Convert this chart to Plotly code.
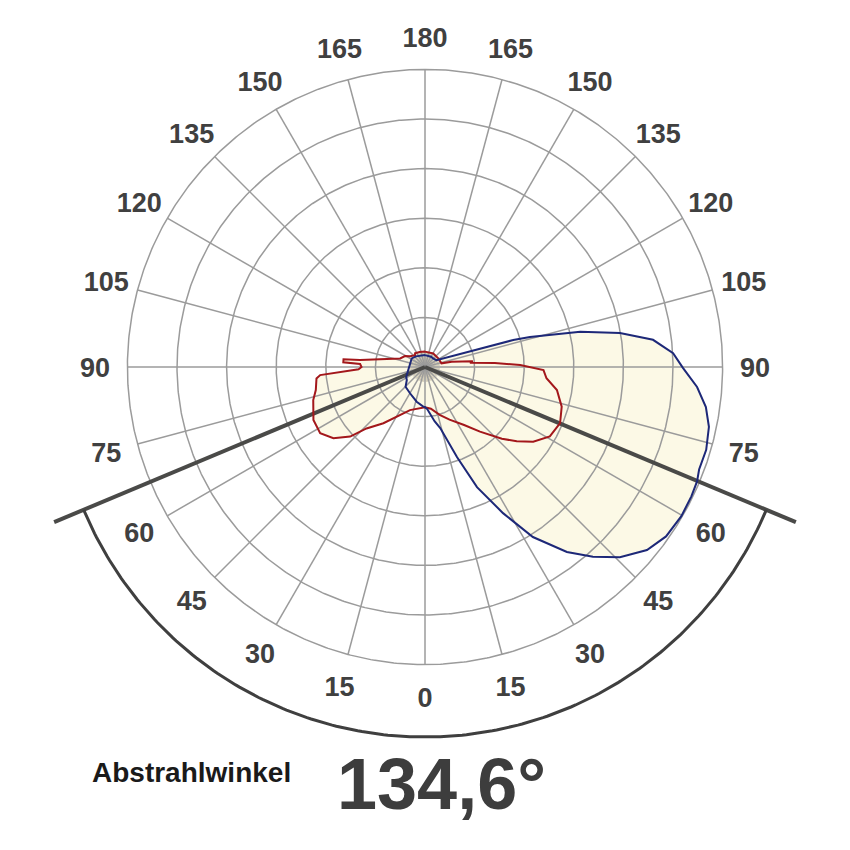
import numpy as np
import plotly.graph_objects as go

# ---------------- data (intensity in cd/klm, gamma in degrees from nadir) ----------------
# C0 / C180 plane (blue)
c0_gamma = [0, 3, 6.2, 10, 14, 17, 19.6, 23.4, 28.1, 32.4, 37.5, 41.5, 45.7, 50.5, 54.9, 59.8,
            64.1, 67.2, 69.5, 73.6, 78.1, 81.9, 85.8, 89.8, 93.2, 96.8, 99.9, 102.8, 105.9, 107,
            107.9, 109.4, 112.4, 121, 135, 150, 180]
c0_I = [81, 85, 94, 111, 127, 157, 193, 264, 334, 406, 470, 511, 549, 580, 594, 598,
        597, 595, 590, 591, 585, 572, 550, 520, 501, 463, 399, 321, 220, 186,
        131, 103, 54, 27, 24, 24, 24]
c180_gamma = [0, 2.5, 13.5, 21.8, 29.7, 44.4, 54.6, 62, 79.8, 103.9, 123, 140, 160, 180]
c180_I = [81, 80, 72, 65, 61, 56, 45, 43, 34, 31, 32, 28, 24, 24]

# C90 / C270 plane (red)
c90_gamma = [0, 8, 17, 25, 34, 40.4, 47, 51, 55.4, 60.9, 67.4, 73.8, 80.1, 84.7, 88.5, 91.2,
             93.2, 95.5, 97, 101.2, 102.5, 123, 148.8, 180]
c90_I = [81, 85, 101, 117, 141, 171, 212, 238, 265, 288, 295, 287, 270, 246, 239, 192,
         141, 91, 97, 55, 34, 32, 32, 31]
c270_gamma = [0, 19.2, 27.5, 36.5, 43.6, 47.1, 52.1, 57.7, 64.6, 73.5, 78.1, 84, 85.6, 88, 90,
              92.6, 93.3, 95.4, 96.1, 99.7, 109, 118.8, 126, 140, 143.9, 160, 180]
c270_I = [81, 92, 109, 141, 171, 206, 234, 250, 249, 235, 225, 220, 212, 134, 128,
          131, 165, 165, 132, 92, 53, 46, 37, 31, 34, 32, 31]

ring_values = [100, 200, 300, 400, 500, 600]
spoke_angles = list(range(0, 360, 15))
tick_angles = [0, 15, 30, 45, 60, 75, 90, 105, 120, 135, 150, 165, 180]
beam_angle = 134.6
title_text = "Abstrahlwinkel"

# ---------------- layout constants ----------------
OFF = 8                      # default page margin of the html body
K = 49.6 / 100.0             # pixels per cd/klm
W = H = 850 - OFF
CX, CY = 425 - OFF, 367 - OFF  # centre of the diagram in figure pixels
R_MAX = max(ring_values)
LABEL_R = 330 / K
LABEL_DY = -3 / K            # small downward nudge of the angle labels
ARC_R = 370 / K
BEAM_R = 402 / K

GRID = "#9b9b9b"
FILL = "#fcf9e6"
BLUE = "#1d2878"
RED = "#a3171b"
DARK = "#3f3f3f"
FONT = "Liberation Sans, Arial, Helvetica, sans-serif"


def xy(gamma, r, side):
    g = np.radians(np.asarray(gamma, dtype=float))
    r = np.asarray(r, dtype=float)
    return side * r * np.sin(g), -r * np.cos(g)


def curve(g_right, i_right, g_left, i_left):
    xl, yl = xy(g_left, i_left, -1)
    xr, yr = xy(g_right, i_right, 1)
    x = np.concatenate([xl[::-1], xr])
    y = np.concatenate([yl[::-1], yr])
    return x, y


fig = go.Figure()

bx, by = curve(c0_gamma, c0_I, c180_gamma, c180_I)
rx, ry = curve(c90_gamma, c90_I, c270_gamma, c270_I)

# fills
for x, y in [(bx, by), (rx, ry)]:
    fig.add_trace(go.Scatter(x=x, y=y, mode="lines", fill="toself", fillcolor=FILL,
                             line=dict(width=0, color=FILL), hoverinfo="skip"))

# small starburst around the centre
sx, sy = [], []
for a in range(0, 360, 5):
    if a % 15:
        ex, ey = xy([a], [30], 1)
        sx += [0, ex[0], None]
        sy += [0, ey[0], None]
fig.add_trace(go.Scatter(x=sx, y=sy, mode="lines", line=dict(color="#c9c2ac", width=1),
                         hoverinfo="skip"))

# grid rings
t = np.linspace(0, 2 * np.pi, 721)
gx, gy = [], []
for rv in ring_values:
    gx += list(rv * np.sin(t)) + [None]
    gy += list(rv * np.cos(t)) + [None]
# spokes
for a in spoke_angles:
    ex, ey = xy([a], [R_MAX], 1)
    gx += [0, ex[0], None]
    gy += [0, ey[0], None]
fig.add_trace(go.Scatter(x=gx, y=gy, mode="lines", line=dict(color=GRID, width=1.5),
                         hoverinfo="skip"))

# beam angle lines
half = beam_angle / 2
lx, ly = [], []
for s in (-1, 1):
    ex, ey = xy([half], [BEAM_R], s)
    lx += [0, ex[0], None]
    ly += [0, ey[0], None]
fig.add_trace(go.Scatter(x=lx, y=ly, mode="lines", line=dict(color="#4a4a48", width=4),
                         hoverinfo="skip"))

# curves
fig.add_trace(go.Scatter(x=rx, y=ry, mode="lines", line=dict(color=RED, width=2),
                         hoverinfo="skip"))
fig.add_trace(go.Scatter(x=bx, y=by, mode="lines", line=dict(color=BLUE, width=2),
                         hoverinfo="skip"))

# arc
ga = np.linspace(-half, half, 200)
ax_, ay_ = xy(np.abs(ga), np.full_like(ga, ARC_R), 1)
ax_ = np.sign(ga) * np.abs(ax_)
fig.add_trace(go.Scatter(x=ax_, y=ay_, mode="lines", line=dict(color=DARK, width=3),
                         hoverinfo="skip"))

# angle labels
tx, ty, tt = [], [], []
for a in tick_angles:
    sides = (1,) if a in (0, 180) else (-1, 1)
    for s in sides:
        ex, ey = xy([a], [LABEL_R], s)
        tx.append(ex[0]); ty.append(ey[0] + LABEL_DY); tt.append(str(a))
fig.add_trace(go.Scatter(x=tx, y=ty, mode="text", text=tt, textposition="middle center",
                         textfont=dict(family=FONT, size=27, color="#404040", weight="bold"),
                         hoverinfo="skip"))

fig.add_annotation(x=(90 - OFF) / W, y=1 - (772 - OFF) / H, xref="paper", yref="paper",
                   xanchor="left", yanchor="middle", showarrow=False, text=title_text,
                   font=dict(family=FONT, size=28, color="#1a1a1a", weight="bold"))
fig.add_annotation(x=(335 - OFF) / W, y=1 - (784 - OFF) / H, xref="paper", yref="paper",
                   xanchor="left", yanchor="middle", showarrow=False,
                   text=f"{beam_angle:.1f}".replace(".", ",") + "°",
                   font=dict(family=FONT, size=72, color="#3d3d3d", weight="bold"))

fig.update_layout(
    width=W, height=H, margin=dict(l=0, r=0, t=0, b=0),
    paper_bgcolor="white", plot_bgcolor="white", showlegend=False,
    xaxis=dict(range=[-CX / K, (W - CX) / K], visible=False, fixedrange=True),
    yaxis=dict(range=[-(H - CY) / K, CY / K], visible=False, fixedrange=True),
)

fig.write_html("out.html")
